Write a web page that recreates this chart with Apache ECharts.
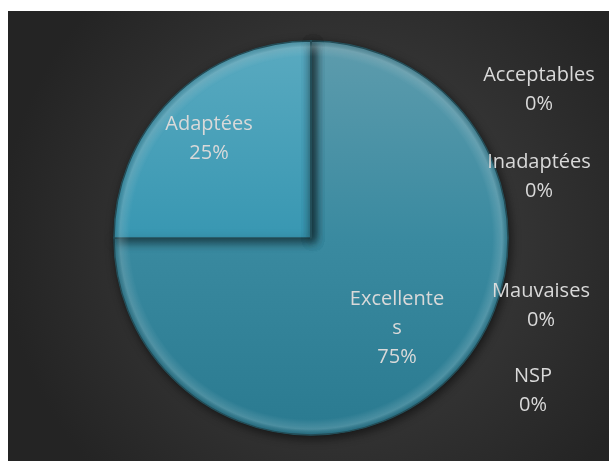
<!DOCTYPE html>
<html>
<head>
<meta charset="utf-8">
<script src="https://cdn.jsdelivr.net/npm/echarts@6/dist/echarts.min.js"></script>
<style>
  html, body { margin: 0; padding: 0; background: #ffffff; }
  #chart { position: absolute; left: 8px; top: 11px; width: 601px; height: 450px; }
</style>
</head>
<body>
<div id="chart"></div>
<script>
// données du graphique
const categories = ['Excellentes', 'Adaptées', 'Acceptables', 'Inadaptées', 'Mauvaises', 'NSP']
const values = [75, 25, 0, 0, 0, 0]

// position des étiquettes (comme dans Excel)
const labelPos = [
  [389, 317],
  [201, 128],
  [531, 79],
  [531, 166],
  [533, 295],
  [525, 380]
]

const sliceColors = [
  new echarts.graphic.LinearGradient(0, 0, 0, 1, [
    { offset: 0, color: '#5e9cad' },
    { offset: 0.5, color: '#3a8aa0' },
    { offset: 1, color: '#2a7a90' }
  ]),
  new echarts.graphic.LinearGradient(0, 0, 0, 1, [
    { offset: 0, color: '#5aaac0' },
    { offset: 1, color: '#3897b2' }
  ])
]

// reflet du biseau sur le bord
const bevel = new echarts.graphic.RadialGradient(303, 227, 197, [
  { offset: 0, color: 'rgba(255,255,255,0)' },
  { offset: 0.92, color: 'rgba(255,255,255,0)' },
  { offset: 0.97, color: 'rgba(255,255,255,0.16)' },
  { offset: 1, color: 'rgba(0,0,0,0.08)' }
], true)

const chart = echarts.init(document.getElementById('chart'))

const option = {
  backgroundColor: new echarts.graphic.RadialGradient(0.55, 0.5, 0.75, [
    { offset: 0, color: '#454545' },
    { offset: 1, color: '#242424' }
  ]),
  animation: false,
  series: [{
    type: 'pie',
    center: [303, 227],
    radius: 197,
    startAngle: 90,
    clockwise: true,
    avoidLabelOverlap: false,
    data: categories.map((name, i) => ({
      name,
      value: values[i],
      itemStyle: { color: sliceColors[i] || '#3a8aa0' },
      label: name === 'Excellentes' ? { width: 100, overflow: 'breakAll' } : {}
    })),
    itemStyle: {
      borderColor: '#24505b',
      borderWidth: 1.5,
      shadowColor: 'rgba(0, 0, 0, 0.55)',
      shadowBlur: 10,
      shadowOffsetX: 2,
      shadowOffsetY: 3
    },
    label: {
      show: true,
      position: 'inside',
      formatter: '{b}\n{d}%',
      color: '#d9d9d9',
      fontFamily: 'Open Sans',
      fontSize: 20,
      lineHeight: 29,
      align: 'center'
    },
    labelLine: { show: false },
    labelLayout: (params) => ({
      x: labelPos[params.dataIndex][0],
      y: labelPos[params.dataIndex][1],
      align: 'center',
      verticalAlign: 'middle'
    }),
    z: 2
  }, {
    type: 'pie',
    center: [303, 227],
    radius: 197,
    startAngle: 90,
    clockwise: true,
    silent: true,
    data: categories.map((name, i) => ({ name, value: values[i] })),
    itemStyle: { color: bevel, borderColor: 'rgba(0,0,0,0)', borderWidth: 0 },
    label: { show: false },
    labelLine: { show: false },
    z: 3
  }]
}

chart.setOption(option)
</script>
</body>
</html>
